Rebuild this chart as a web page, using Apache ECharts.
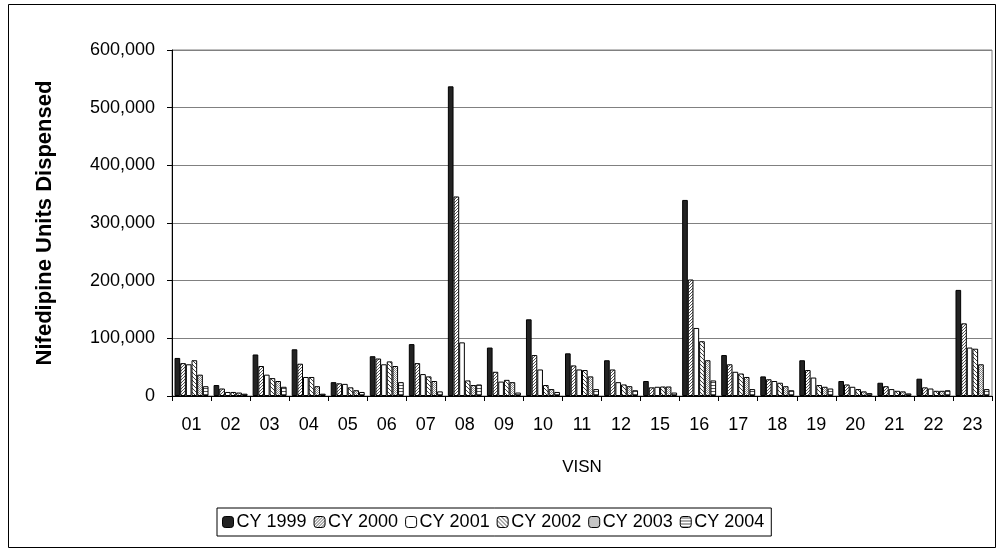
<!DOCTYPE html>
<html>
<head>
<meta charset="utf-8">
<script src="https://cdn.jsdelivr.net/npm/echarts@6/dist/echarts.min.js"></script>
<style>
  html, body { margin: 0; padding: 0; background: #fff; }
  #chart { width: 1000px; height: 552px; }
</style>
</head>
<body>
<div id="chart"></div>
<script>
// VISN categories
const visn = ['01', '02', '03', '04', '05', '06', '07', '08', '09', '10', '11',
              '12', '15', '16', '17', '18', '19', '20', '21', '22', '23'];

// units dispensed per calendar year
const cy1999 = [66000, 19000, 72000, 81000, 24000, 69000, 90000, 537000, 84000, 133000, 74000,
                62000, 26000, 340000, 71000, 34000, 62000, 26000, 23000, 30000, 184000];
const cy2000 = [57000, 13000, 52000, 56000, 22000, 65000, 57000, 346000, 42000, 71000, 53000,
                46000, 15000, 202000, 55000, 29000, 45000, 20000, 17000, 15000, 126000];
const cy2001 = [55000, 7000, 37000, 33000, 21000, 55000, 38000, 93000, 25000, 46000, 46000,
                24000, 16000, 118000, 42000, 26000, 32000, 16000, 12000, 13000, 84000];
const cy2002 = [62000, 7000, 31000, 33000, 15000, 60000, 34000, 27000, 28000, 19000, 45000,
                20000, 16500, 95000, 39000, 23000, 19000, 12000, 9000, 9000, 82000];
const cy2003 = [37000, 6000, 26000, 17000, 10000, 52000, 26000, 19000, 24000, 12000, 34000,
                17000, 16500, 62000, 33000, 17000, 16000, 8000, 8000, 9000, 55000];
const cy2004 = [17000, 4000, 16000, 4000, 7000, 24000, 8000, 20000, 6000, 7000, 12000,
                10000, 6000, 27000, 12000, 10000, 13000, 5000, 4500, 10000, 12000];

const seriesNames = ['CY 1999', 'CY 2000', 'CY 2001', 'CY 2002', 'CY 2003', 'CY 2004'];
const seriesData = [cy1999, cy2000, cy2001, cy2002, cy2003, cy2004];

// small canvas fill patterns like the excel ones
function makePattern(w, h, draw) {
    const c = document.createElement('canvas');
    c.width = w;
    c.height = h;
    const ctx = c.getContext('2d');
    ctx.fillStyle = '#fff';
    ctx.fillRect(0, 0, w, h);
    draw(ctx);
    return { image: c, repeat: 'repeat' };
}

const fills = [
    '#232323',
    makePattern(3, 3, ctx => {           // forward diagonal
        ctx.fillStyle = '#555';
        for (let i = 0; i < 3; i++) ctx.fillRect(i, 2 - i, 1, 1);
    }),
    '#ffffff',
    makePattern(4, 4, ctx => {           // back diagonal
        ctx.fillStyle = '#444';
        for (let i = 0; i < 4; i++) ctx.fillRect(i, i, 1, 1);
    }),
    makePattern(2, 2, ctx => {           // stipple
        ctx.fillStyle = '#8a8a8a';
        ctx.fillRect(0, 0, 1, 1);
        ctx.fillRect(1, 1, 1, 1);
    }),
    makePattern(1, 3, ctx => {           // horizontal lines
        ctx.fillStyle = '#555';
        ctx.fillRect(0, 1, 1, 1);
    })
];

const chart = echarts.init(document.getElementById('chart'), null, { renderer: 'canvas' });

const option = {
    animation: false,
    backgroundColor: '#fff',
    textStyle: { fontFamily: 'Liberation Sans, Arial, sans-serif', color: '#000' },
    graphic: [{
        type: 'rect',
        shape: { x: 8.5, y: 4.5, width: 987, height: 543 },
        style: { fill: 'none', stroke: '#000', lineWidth: 1 },
        silent: true,
        z: -1
    }],
    grid: {
        left: 172, right: 8, top: 50, bottom: 156,
        show: true, borderColor: '#808080', borderWidth: 1
    },
    legend: {
        left: 217, top: 508,
        data: seriesNames,
        itemWidth: 11, itemHeight: 11,
        itemGap: 7,
        padding: [5, 7, 5, 5],
        borderColor: '#000', borderWidth: 1,
        textStyle: { fontSize: 18, color: '#000', padding: [0, 0, 0, -2] },
        itemStyle: { borderColor: '#000', borderWidth: 1 }
    },
    xAxis: {
        type: 'category',
        data: visn,
        name: 'VISN',
        nameLocation: 'middle',
        nameGap: 63,
        nameTextStyle: { fontSize: 17, color: '#000' },
        axisLine: { lineStyle: { color: '#000', width: 1 } },
        axisTick: { show: true, length: 5, lineStyle: { color: '#000' } },
        axisLabel: { fontSize: 18, color: '#000', margin: 20, interval: 0 }
    },
    yAxis: {
        type: 'value',
        min: 0, max: 600000, interval: 100000,
        name: 'Nifedipine Units Dispensed',
        nameLocation: 'middle',
        nameGap: 116,
        nameTextStyle: { fontSize: 22, fontWeight: 'bold', color: '#000' },
        axisLine: { show: true, lineStyle: { color: '#000', width: 1 } },
        axisTick: { show: true, length: 5, lineStyle: { color: '#000' } },
        axisLabel: {
            fontSize: 18, color: '#000', margin: 17,
            formatter: v => v.toLocaleString('en-US')
        },
        splitLine: { lineStyle: { color: '#808080', width: 1 } }
    },
    series: seriesNames.map((name, i) => ({
        name: name,
        type: 'bar',
        data: seriesData[i],
        barGap: '0%',
        barCategoryGap: '13%',
        itemStyle: { color: fills[i], borderColor: '#000', borderWidth: 1 }
    }))
};

chart.setOption(option);
</script>
</body>
</html>
